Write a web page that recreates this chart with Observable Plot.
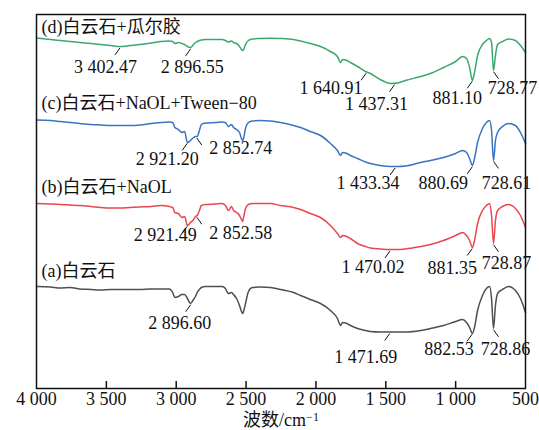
<!DOCTYPE html>
<html>
<head>
<meta charset="utf-8">
<script src="https://cdn.jsdelivr.net/npm/d3@7"></script>
<script src="https://cdn.jsdelivr.net/npm/@observablehq/plot@0.6"></script>
<style>
  body { margin: 0; background: #fff; }
  #chart svg { display: block; }
</style>
</head>
<body>
<div id="chart"></div>
<script>
// FTIR spectra of dolomite before/after reagent adsorption (transmittance, a.u., stacked)
const wavenumbers = [
  4000, 3900, 3830, 3760, 3690, 3610, 3540, 3470, 3400, 3330, 3260, 3180, 3110, 3050,
  3025, 3010, 2985, 2960, 2940, 2920, 2898, 2876, 2862, 2850, 2834, 2820, 2790, 2720,
  2670, 2648, 2626, 2604, 2590, 2568, 2547, 2533, 2525, 2518, 2504, 2483, 2455, 2400,
  2325, 2255, 2160, 2110, 2040, 1967, 1896, 1846, 1824, 1810, 1788, 1753, 1702, 1645,
  1610, 1540, 1466, 1416, 1360, 1250, 1180, 1087, 1000, 950, 922, 900, 880, 865,
  843, 808, 780, 757, 743, 729, 715, 700, 665, 622, 572, 536, 500
];

// (a) dolomite
const dolomite = [
  102, 101.5, 100.5, 101, 99.5, 99, 98.5, 99, 99, 99, 99, 99.5, 99.5, 99.5,
  96, 91, 92, 94, 94, 90, 85, 89, 92, 96, 99, 101, 102, 102,
  102, 100, 95, 96, 94, 90, 83, 77, 75, 77, 85, 97, 101, 101.5,
  101, 99, 96, 93, 89, 85, 78, 70, 63, 66, 65.5, 63, 60, 58,
  57, 56.5, 56.5, 56.5, 56.5, 58, 60, 63, 67, 69, 66, 61, 55, 61,
  78, 93, 100, 102, 90, 60, 83, 95, 99, 102, 98, 90, 76
];

// (b) dolomite + NaOL
const dolomiteNaOL = [
  185, 184.5, 184, 183.5, 183, 182, 181, 180.5, 180.5, 181, 181.5, 182, 183, 182,
  181, 176, 175, 171, 172, 163, 166, 169, 172, 173, 178, 183, 184, 184.5,
  185, 183, 178, 182, 178, 176, 173, 169, 167, 171, 180, 184, 185, 185,
  185, 183, 181, 179, 175, 171, 163, 155, 151, 153, 152.5, 150, 145, 142,
  140.5, 139.5, 139, 139, 139.5, 142, 144, 148, 153, 156, 153, 148, 141, 148,
  165, 178, 183, 185, 173, 145, 168, 178, 182, 184, 180, 173, 161
];

// (c) dolomite + NaOL + Tween-80
const dolomiteNaOLTween = [
  268.5, 268, 267, 266, 265, 264, 263.5, 263, 263, 263, 263.5, 265, 266, 266.5,
  266, 261, 259, 256, 257, 246, 248, 251, 252, 252, 258, 264, 265.5, 266,
  266.5, 266, 262, 264, 261, 259, 256, 250, 248, 250, 260, 266, 267.5, 268,
  267.5, 266, 263, 261, 257, 253, 245, 238, 233, 236, 235.5, 233, 230, 226.5,
  225, 223, 222, 222, 222.5, 226, 228, 231, 235, 238, 236, 230, 223, 230,
  246, 260, 266, 268, 258, 228, 248, 256, 262, 265, 263, 256, 245
];

// (d) dolomite + guar gum
const dolomiteGuar = [
  350.5, 349, 348, 347, 346, 345, 344, 343, 342, 343, 344, 345.5, 347, 347.5,
  347, 345, 346, 345, 344, 342, 341, 344, 346, 347, 348, 348.5, 349, 349,
  349, 348, 346.5, 347.5, 346, 345, 342, 339, 338, 339, 344, 348, 349.5, 350,
  350.3, 350, 349, 347.5, 345, 342, 337, 332, 326, 329, 328.5, 326, 322, 317,
  315, 309, 305, 305.5, 308, 312, 315, 321, 327, 332, 330, 321, 308, 316,
  333, 344, 348, 350, 346, 318, 333, 344, 347, 349.5, 348, 343, 336
];

const seriesNames = ["(a)白云石", "(b)白云石+NaOL", "(c)白云石+NaOL+Tween−80", "(d)白云石+瓜尔胶"];
const seriesValues = [dolomite, dolomiteNaOL, dolomiteNaOLTween, dolomiteGuar];
const seriesColors = ["#4f4f4f", "#e8474f", "#3a73c2", "#3aa86c"];

// assigned band positions (cm^-1)
const peaksA = [2896.60, 1471.69, 882.53, 728.86];
const peaksB = [2921.49, 2852.58, 1470.02, 881.35, 728.87];
const peaksC = [2921.20, 2852.74, 1433.34, 880.69, 728.61];
const peaksD = [3402.47, 2896.55, 1640.91, 1437.31, 881.10, 728.77];
const seriesPeaks = [peaksA, peaksB, peaksC, peaksD];

const xTicks = [4000, 3500, 3000, 2500, 2000, 1500, 1000, 500];
const xLabel = "波数/cm";
const xLabelUnitPower = "−1";

// label placement: [text dx px, text drop px below curve, leader side (+1 left, -1 right)]
const peakLabelLayout = [
  [[-11, 20, 1], [-24, 25, 1], [-23, 16, 1], [12, 21, -1]],
  [[-22, 10, 1], [44, 18, -1], [-17, 18, 1], [-20, 21, 1], [13, 20, -1]],
  [[-20, 17, 1], [44, 12, -1], [-27, 17, 1], [-29, 18, 1], [13, 23, -1]],
  [[-14.5, 21, 1], [1.6, 20, 1], [-35, 17, 1], [-18, 21, 1], [-15, 18, 1], [19, 18, -1]]
];
const seriesLabelRise = [15, 16, 16.5, 10.5];

const W = 539, H = 430, ML = 36, MR = 14, MT = 14, MB = 42;
const wnPerPx = (xTicks[0] - xTicks[xTicks.length - 1]) / (W - ML - MR);
const unitsPerPx = 374 / (H - MT - MB);

const spectra = seriesValues.flatMap((vals, s) =>
  wavenumbers.map((wn, i) => ({series: seriesNames[s], wn, t: vals[i]})));

function valueAt(vals, wn) {
  for (let i = 0; i < wavenumbers.length - 1; i++) {
    const a = wavenumbers[i], b = wavenumbers[i + 1];
    if (wn <= a && wn >= b) {
      const f = (a - wn) / (a - b);
      return vals[i] + f * (vals[i + 1] - vals[i]);
    }
  }
  return vals[vals.length - 1];
}

const fmtNum = v => d3.format(",.2f")(v).replace(/,/g, " ");
const fmtTick = v => d3.format(",")(v).replace(/,/g, " ");

const peakRows = seriesPeaks.flatMap((peaks, s) => peaks.map((wn, k) => {
  const t = valueAt(seriesValues[s], wn);
  const [dx, drop, side] = peakLabelLayout[s][k];
  return {
    wn, t,
    label: fmtNum(wn),
    x1: wn, y1: t - 1.5 * unitsPerPx,
    x2: wn + side * 5 * wnPerPx, y2: t - 8.5 * unitsPerPx,
    tx: wn - dx * wnPerPx, ty: t - drop * unitsPerPx
  };
}));

const nameRows = seriesNames.map((name, s) => ({
  name, wn: wavenumbers[0], t: seriesValues[s][0] + seriesLabelRise[s] * unitsPerPx
}));

const font = "'Liberation Serif', 'Times New Roman', 'Noto Sans CJK SC', serif";

const chart = Plot.plot({
  width: W, height: H,
  marginLeft: ML, marginRight: MR, marginTop: MT, marginBottom: MB,
  style: {fontFamily: font, fontSize: "18px", color: "#111", background: "#fff"},
  x: {domain: [xTicks[0], xTicks[xTicks.length - 1]], ticks: xTicks, tickFormat: fmtTick},
  y: {domain: [0, 374], axis: null},
  marks: [
    Plot.line(spectra, {
      x: "wn", y: "t", z: "series",
      stroke: d => seriesColors[seriesNames.indexOf(d.series)],
      strokeWidth: 1.5, curve: "monotone-x"
    }),
    Plot.link(peakRows, {x1: "x1", y1: "y1", x2: "x2", y2: "y2", stroke: "#111", strokeWidth: 1}),
    Plot.text(peakRows, {x: "tx", y: "ty", text: "label", fontSize: 18, fill: "#111"}),
    Plot.text(nameRows, {x: "wn", y: "t", text: "name", textAnchor: "start", dx: 5, fontSize: 18, fill: "#111"}),
    Plot.ruleX(xTicks.slice(1, -1), {y1: 0, y2: 7 * unitsPerPx, stroke: "#111", strokeWidth: 1.5}),
    Plot.axisX({ticks: xTicks, tickFormat: fmtTick, tickSize: 0, tickPadding: 4, fontSize: 18, label: null}),
    Plot.text([xLabel], {frameAnchor: "bottom", lineAnchor: "middle", dy: 32, fontSize: 18, fill: "#111", className: "x-title"}),
    Plot.frame({stroke: "#111", strokeWidth: 1.5})
  ]
});

// unit exponent as a raised, smaller tspan on the axis title
d3.select(chart).selectAll(".x-title text").each(function () {
  const t = d3.select(this);
  t.append("tspan").attr("dy", "-0.45em").attr("font-size", 12).text(xLabelUnitPower);
});

document.getElementById("chart").append(chart);
</script>
</body>
</html>
